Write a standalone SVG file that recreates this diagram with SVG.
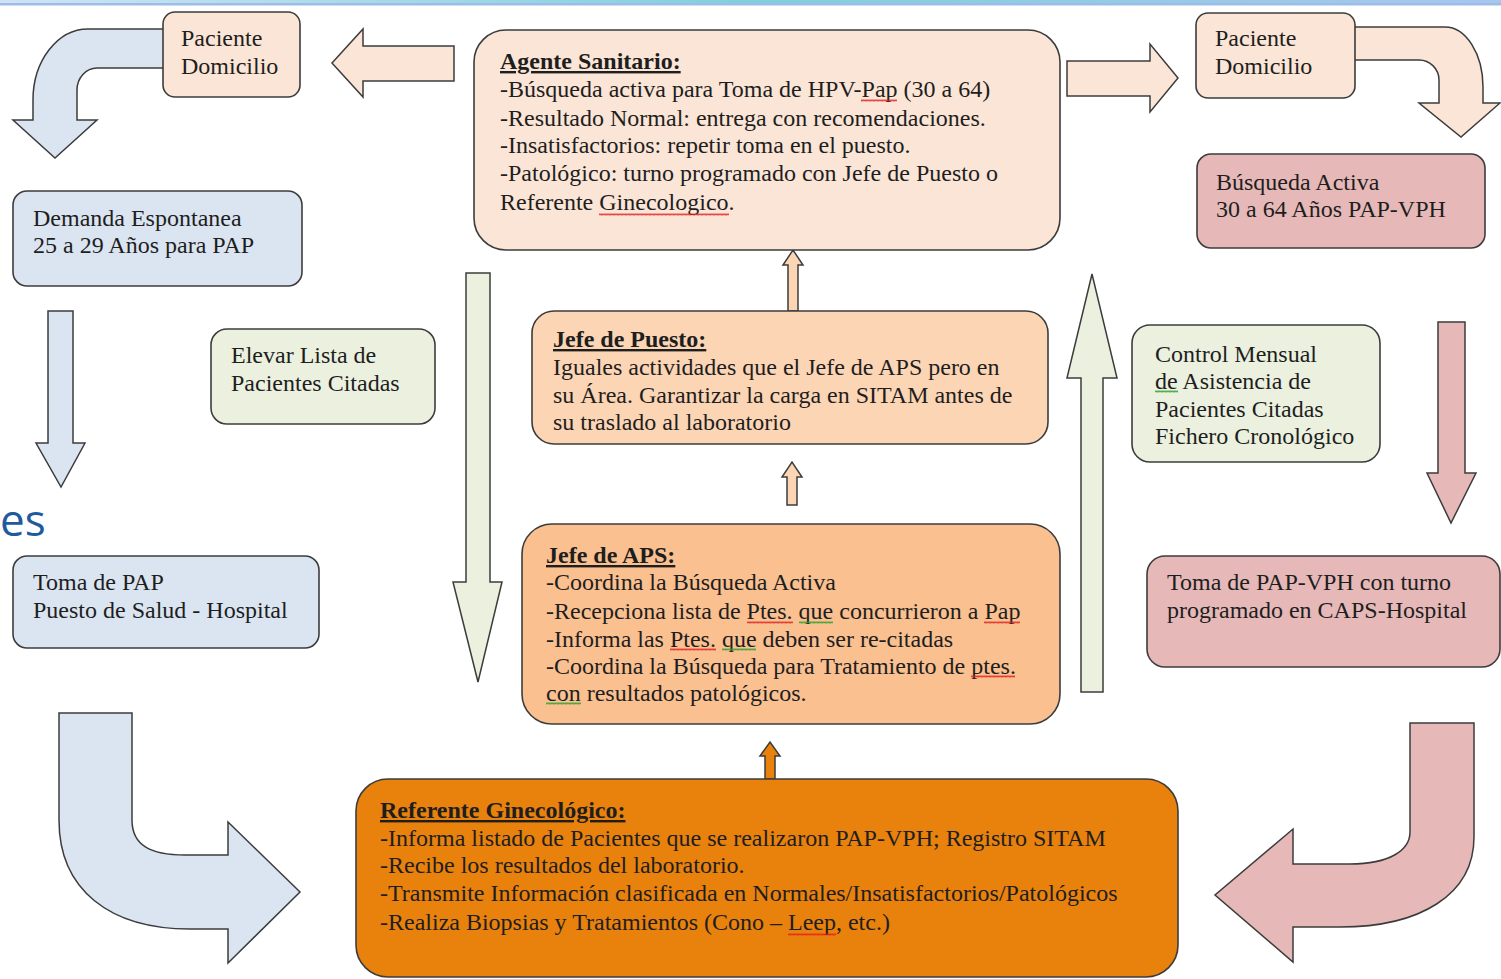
<svg xmlns="http://www.w3.org/2000/svg" width="1501" height="979" viewBox="0 0 1501 979">
<defs>
<style>
.box{stroke:#3c3c3c;stroke-width:1.6}
.arr{stroke:#3c3c3c;stroke-width:1.5;stroke-linejoin:miter}
.t{font-family:"Liberation Serif","Times New Roman",serif;font-size:24px;fill:#1e1e1e}
.h{font-weight:bold;text-decoration:underline}
.peach{fill:#fbe5d6}
.blue{fill:#dbe5f1}
.green{fill:#ebf1de}
.pink{fill:#e6b9b8}
.or1{fill:#fcd5b5}
.or2{fill:#fac090}
.or3{fill:#e9810d}
.sr{fill:url(#wr)}
.sg{fill:url(#wg)}
</style>
<linearGradient id="band" x1="0" y1="0" x2="1" y2="0">
<stop offset="0" stop-color="#cfe3f5"/>
<stop offset="0.5" stop-color="#7fd0dc"/>
<stop offset="1" stop-color="#a9c6ee"/>
</linearGradient>
<pattern id="wr" width="4" height="3" patternUnits="userSpaceOnUse"><path d="M0,2.5 L1,0.5 L2,2.5 L3,0.5 L4,2.5" fill="none" stroke="#e02020" stroke-width="0.8"/></pattern>
<pattern id="wg" width="4" height="3" patternUnits="userSpaceOnUse"><path d="M0,2.5 L1,0.5 L2,2.5 L3,0.5 L4,2.5" fill="none" stroke="#2aa02a" stroke-width="0.8"/></pattern>
</defs>
<rect width="1501" height="979" fill="#ffffff"/>
<rect x="0" y="0" width="1501" height="3" fill="url(#band)"/>
<rect x="0" y="3" width="1501" height="2.5" fill="#9dbde8"/>
<text x="0" y="536" font-family="'Open Sans','Noto Sans',sans-serif" font-size="44" fill="#1f5b9c">es</text>

<g id="connectors">
<path class="arr blue" d="M175,29 L88,29 A55,71 0 0 0 33,100 L33,120 L13,120 L55,158 L97,120 L77,120 L77,90 A20,22 0 0 1 97,68 L175,68 Z"/>
<path class="arr peach" d="M454,46 L363,46 L363,29 L332,63 L363,97 L363,81 L454,81 Z"/>
<path class="arr peach" d="M1067,61 L1150,61 L1150,44 L1178,78 L1150,112 L1150,96 L1067,96 Z"/>
<path class="arr peach" d="M1340,27 L1445,27 A38,60 0 0 1 1483,87 L1483,103 L1500,103 L1461,137 L1419,103 L1439,103 L1439,80 A20,20 0 0 0 1419,60 L1340,60 Z"/>
<path class="arr blue" d="M48,311 L73,311 L73,443 L85,443 L61,487 L36,443 L48,443 Z"/>
<path class="arr green" d="M466,273 L490,273 L490,582 L502,582 L478,682 L453,582 L466,582 Z"/>
<path class="arr green" d="M1081,692 L1081,378 L1067,378 L1092,274 L1117,378 L1103,378 L1103,692 Z"/>
<path class="arr pink" d="M1438,322 L1465,322 L1465,473 L1476,473 L1451,523 L1427,473 L1438,473 Z"/>
<path class="arr or1" d="M788,311 L788,265 L783,265 L793,250 L803,265 L798,265 L798,311 Z"/>
<path class="arr or1" d="M787,505 L787,477 L782,477 L792,462 L802,477 L797,477 L797,505 Z"/>
<path class="arr or3" d="M765,779 L765,756 L760,756 L770,742 L780,756 L775,756 L775,779 Z"/>
<path class="arr blue" d="M59,713 L132,713 L132,820 C132,845 150,855 185,855 L228,855 L228,822 L300,892 L228,963 L228,929 L190,929 C110,929 59,890 59,820 Z"/>
<path class="arr pink" d="M1410,723 L1474,723 L1474,837 C1474,895 1420,927 1340,927 L1293,927 L1293,962 L1215,895 L1293,829 L1293,864 L1350,864 C1390,864 1410,850 1410,832 Z"/>
</g>

<g id="paciente-izq">
<rect class="box peach" x="163" y="12" width="137" height="85" rx="12"/>
<text class="t" x="181" y="46">Paciente</text>
<text class="t" x="181" y="74">Domicilio</text>
</g>

<g id="agente-sanitario">
<rect class="box peach" x="474" y="30" width="586" height="220" rx="32"/>
<text class="t h" x="500" y="69">Agente Sanitario:</text>
<text class="t" x="500" y="97">-Búsqueda activa para Toma de HPV-Pap (30 a 64)</text>
<text class="t" x="500" y="126">-Resultado Normal: entrega con recomendaciones.</text>
<text class="t" x="500" y="153">-Insatisfactorios: repetir toma en el puesto.</text>
<text class="t" x="500" y="181">-Patológico: turno programado con Jefe de Puesto o</text>
<text class="t" x="500" y="210">Referente Ginecologico.</text>
<rect class="sr" x="861" y="99" width="36" height="3"/>
<rect class="sr" x="599" y="213" width="130" height="3"/>
</g>

<g id="paciente-der">
<rect class="box peach" x="1196" y="13" width="159" height="85" rx="12"/>
<text class="t" x="1215" y="46">Paciente</text>
<text class="t" x="1215" y="74">Domicilio</text>
</g>

<g id="busqueda-activa">
<rect class="box pink" x="1197" y="154" width="288" height="94" rx="14"/>
<text class="t" x="1216" y="190">Búsqueda Activa</text>
<text class="t" x="1216" y="217">30 a 64 Años PAP-VPH</text>
</g>

<g id="demanda-espontanea">
<rect class="box blue" x="13" y="191" width="289" height="95" rx="14"/>
<text class="t" x="33" y="226">Demanda Espontanea</text>
<text class="t" x="33" y="253">25 a 29 Años para PAP</text>
</g>

<g id="elevar-lista">
<rect class="box green" x="211" y="329" width="224" height="95" rx="16"/>
<text class="t" x="231" y="363">Elevar Lista de</text>
<text class="t" x="231" y="391">Pacientes Citadas</text>
</g>

<g id="jefe-puesto">
<rect class="box or1" x="532" y="311" width="516" height="133" rx="22"/>
<text class="t h" x="553" y="347">Jefe de Puesto:</text>
<text class="t" x="553" y="375">Iguales actividades que el Jefe de APS pero en</text>
<text class="t" x="553" y="403">su Área. Garantizar la carga en SITAM antes de</text>
<text class="t" x="553" y="430">su traslado al laboratorio</text>
</g>

<g id="control-mensual">
<rect class="box green" x="1132" y="325" width="248" height="137" rx="18"/>
<text class="t" x="1155" y="362">Control Mensual</text>
<text class="t" x="1155" y="389">de Asistencia de</text>
<text class="t" x="1155" y="417">Pacientes Citadas</text>
<text class="t" x="1155" y="444">Fichero Cronológico</text>
<rect class="sg" x="1155" y="390" width="23" height="3"/>
</g>

<g id="toma-pap">
<rect class="box blue" x="13" y="556" width="306" height="92" rx="14"/>
<text class="t" x="33" y="590">Toma de PAP</text>
<text class="t" x="33" y="618">Puesto de Salud - Hospital</text>
</g>

<g id="toma-pap-vph">
<rect class="box pink" x="1147" y="556" width="353" height="111" rx="18"/>
<text class="t" x="1167" y="590">Toma de PAP-VPH con turno</text>
<text class="t" x="1167" y="618">programado en CAPS-Hospital</text>
</g>

<g id="jefe-aps">
<rect class="box or2" x="522" y="524" width="538" height="200" rx="30"/>
<text class="t h" x="546" y="563">Jefe de APS:</text>
<text class="t" x="546" y="590">-Coordina la Búsqueda Activa</text>
<text class="t" x="546" y="619">-Recepciona lista de Ptes. que concurrieron a Pap</text>
<text class="t" x="546" y="647">-Informa las Ptes. que deben ser re-citadas</text>
<text class="t" x="546" y="674">-Coordina la Búsqueda para Tratamiento de ptes.</text>
<text class="t" x="546" y="701">con resultados patológicos.</text>
<rect class="sr" x="747" y="621" width="46" height="3"/>
<rect class="sg" x="799" y="621" width="34" height="3"/>
<rect class="sr" x="984" y="621" width="36" height="3"/>
<rect class="sr" x="670" y="648" width="46" height="3"/>
<rect class="sg" x="722" y="648" width="34" height="3"/>
<rect class="sr" x="971" y="675" width="44" height="3"/>
<rect class="sg" x="546" y="702" width="35" height="3"/>
</g>

<g id="referente-ginecologico">
<rect class="box or3" x="356" y="779" width="822" height="198" rx="32"/>
<text class="t h" x="380" y="818">Referente Ginecológico:</text>
<text class="t" x="380" y="846">-Informa listado de Pacientes que se realizaron PAP-VPH; Registro SITAM</text>
<text class="t" x="380" y="873">-Recibe los resultados del laboratorio.</text>
<text class="t" x="380" y="901">-Transmite Información clasificada en Normales/Insatisfactorios/Patológicos</text>
<text class="t" x="380" y="930">-Realiza Biopsias y Tratamientos (Cono – Leep, etc.)</text>
<rect class="sr" x="788" y="933" width="48" height="3"/>
</g>
</svg>
